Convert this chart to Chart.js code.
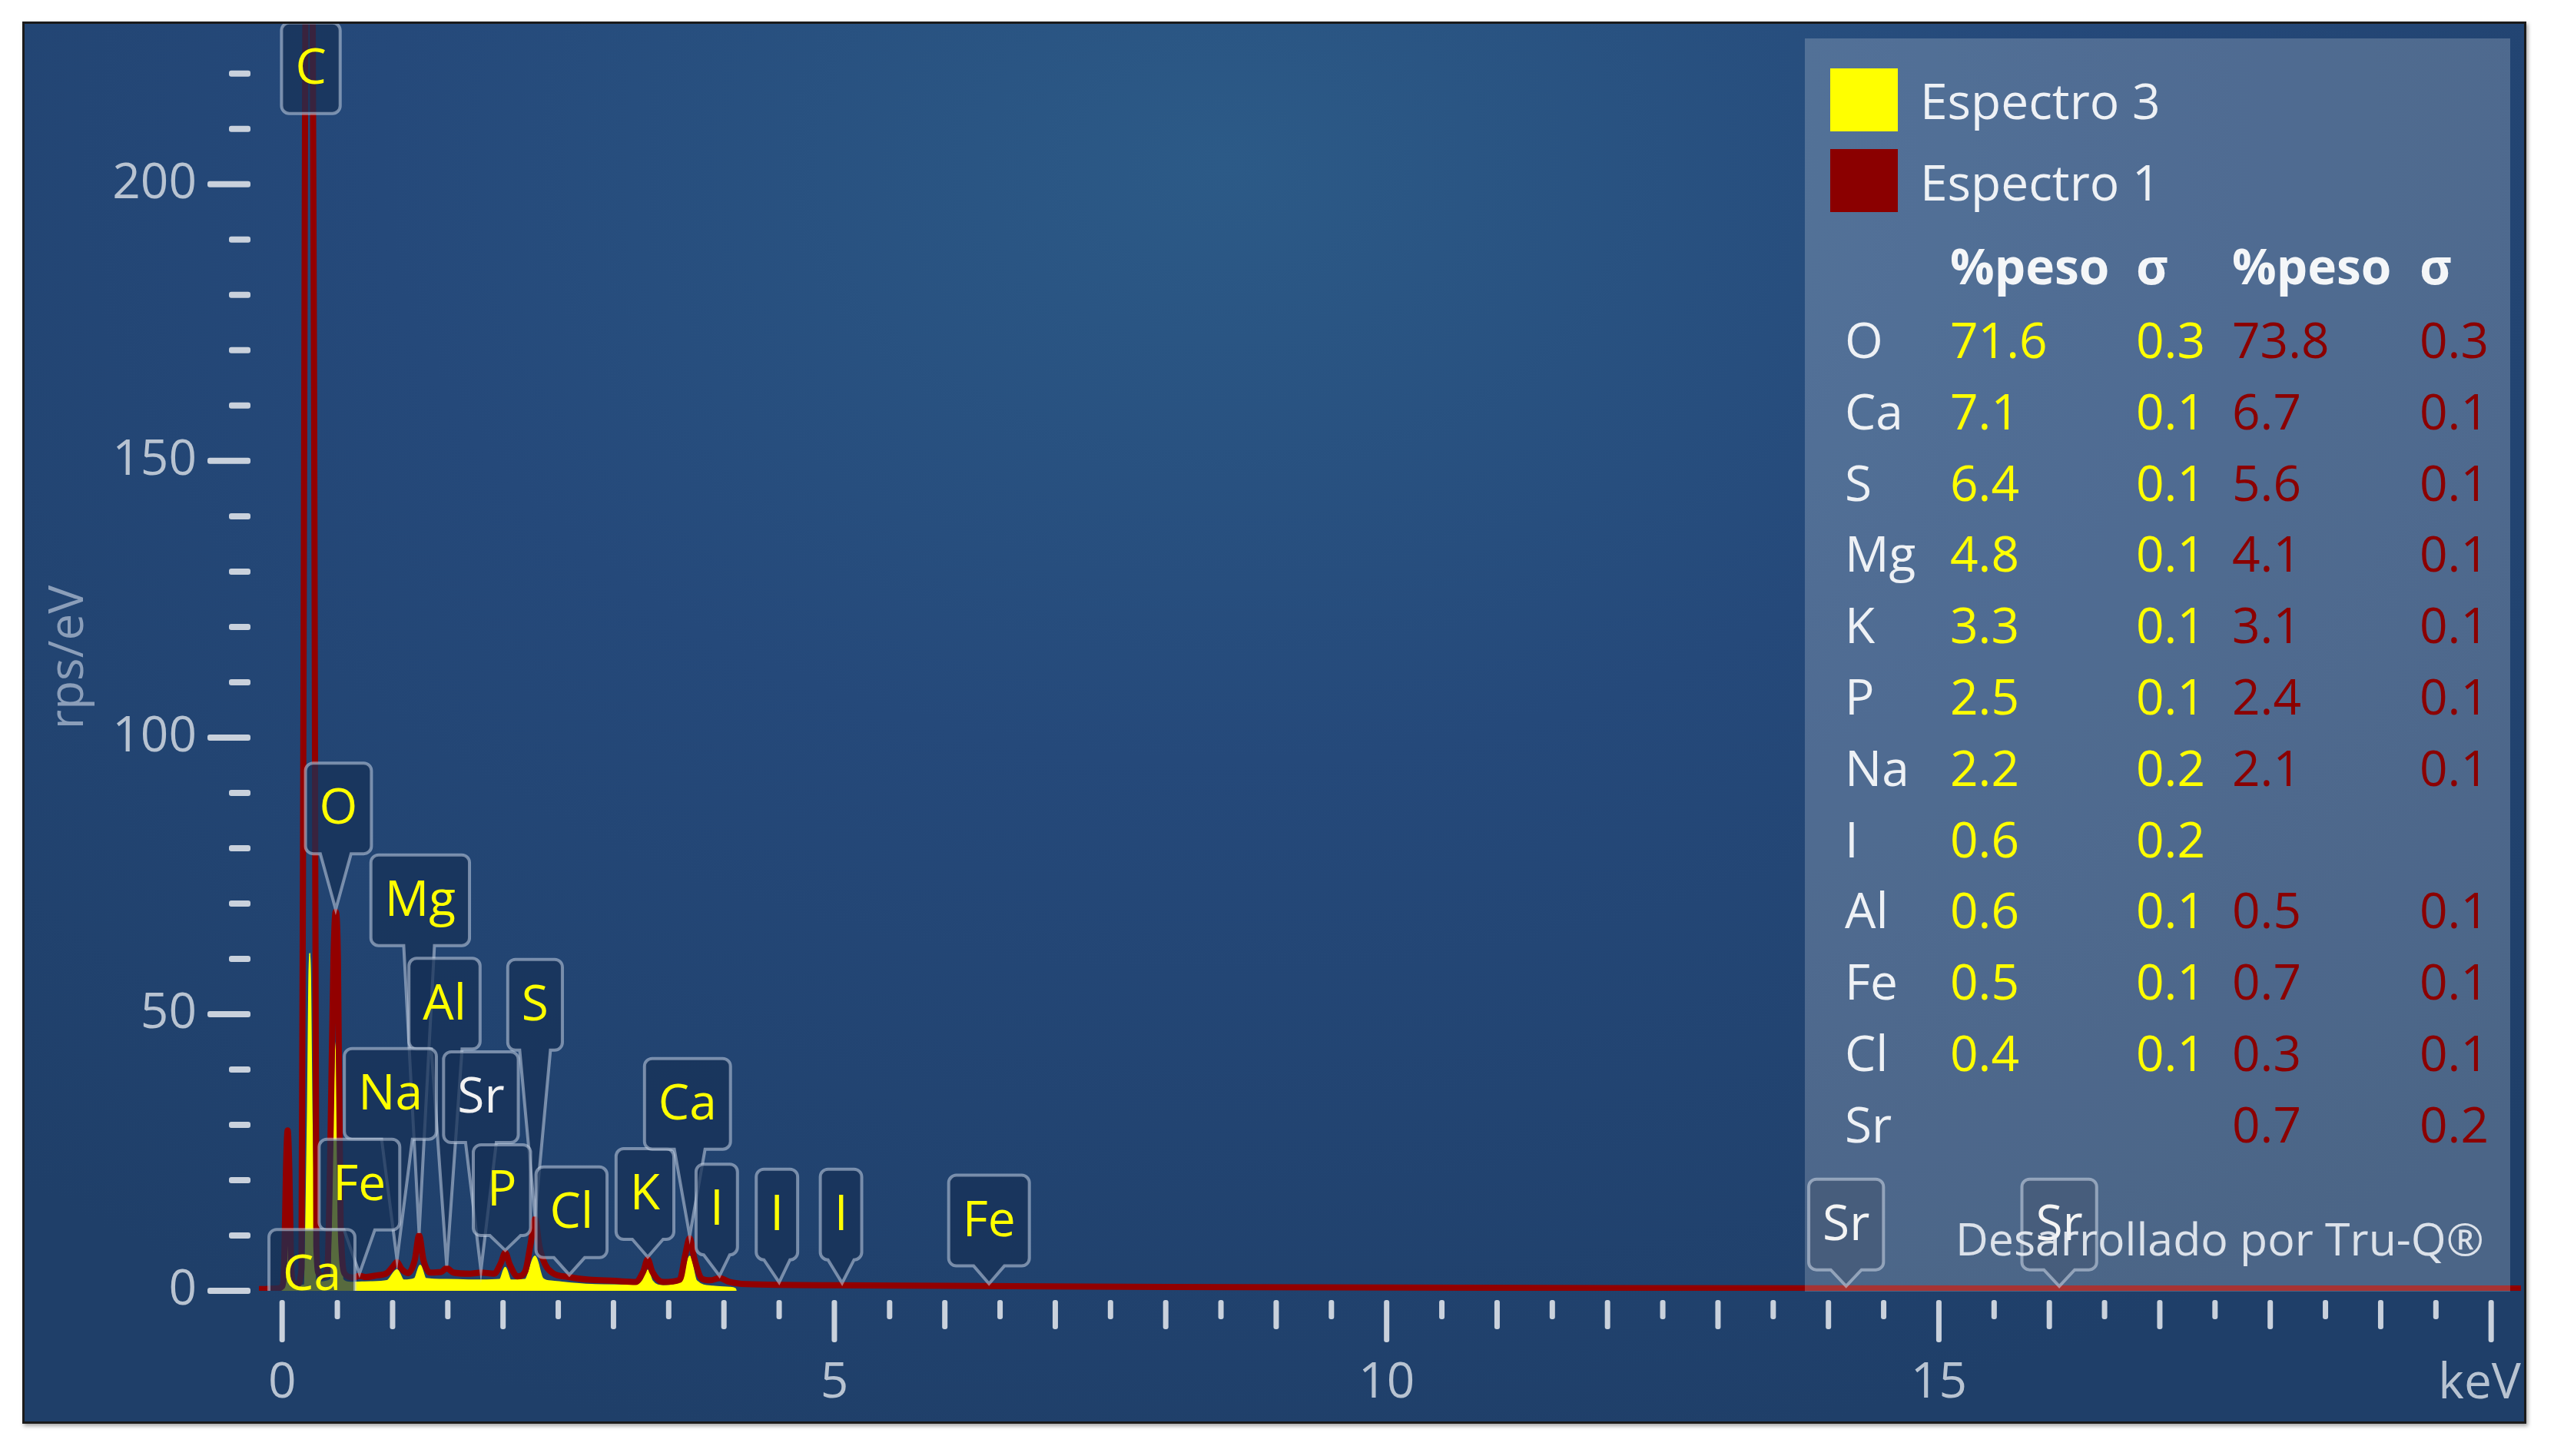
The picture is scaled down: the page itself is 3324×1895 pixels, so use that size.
<!DOCTYPE html>
<html lang="es">
<head>
<meta charset="utf-8">
<title>Espectro EDS</title>
<script src="https://cdn.jsdelivr.net/npm/chart.js@4.4.1/dist/chart.umd.min.js"></script>
<style>
  html, body { margin: 0; padding: 0; background: #fff; }
  body { width: 3324px; height: 1895px; position: relative; overflow: hidden; font-family: 'Open Sans', sans-serif; }
  #frame {
    position: absolute; left: 29px; top: 28px; width: 3253px; height: 1819px;
    border: 3px solid #1b1b1b; box-shadow: 2px 3px 5px rgba(0,0,0,0.35); overflow: hidden;
    background: radial-gradient(ellipse 75% 95% at 48% 10%, #2c5a87 0%, #25497a 45%, #1f3f69 100%);
  }
  #chartBox { position: absolute; left: 0; top: 0; width: 3253px; height: 1819px; }
  #panel { position: absolute; left: 2317px; top: 19px; width: 918px; height: 1631px; background: rgba(255,255,255,0.2); }
  .t { position: absolute; height: 80px; line-height: 80px; font-size: 64px; white-space: nowrap; color: #eef1f5; }
  .sw { position: absolute; width: 88px; height: 82px; }
  .b { font-weight: 700; }
</style>
</head>
<body>
<div id="frame">
  <div id="chartBox"><canvas id="spectrum"></canvas></div>
  <div id="panel"></div>
</div>
<script>
// Espectro 1 (rojo): energía en keV y rps/eV
const spec1Energy = [-0.21, -0.05, 0.00, 0.02, 0.035, 0.05, 0.065, 0.08, 0.10, 0.14, 0.175, 0.195, 0.215, 0.275, 0.295, 0.31, 0.335, 0.37, 0.41, 0.44, 0.465, 0.485, 0.505, 0.53, 0.57,
  0.64, 0.70, 0.76, 0.86, 0.95, 1.00, 1.04, 1.08, 1.14, 1.20, 1.24, 1.28, 1.34, 1.44, 1.49, 1.55, 1.70, 1.80, 1.92, 1.98, 2.02, 2.06, 2.13,
  2.20, 2.25, 2.29, 2.33, 2.38, 2.45, 2.59, 2.78, 3.01, 3.20, 3.27, 3.31, 3.35, 3.45, 3.60, 3.65, 3.69, 3.73, 3.80, 3.88, 3.96, 4.05, 4.20,
  5.00, 6.00, 8.00, 12.00, 16.00, 20.27];
const spec1Counts = [0.3, 0.4, 0.8, 6, 22, 29, 22, 6, 1.5, 1.2, 4, 120, 240, 240, 120, 8, 3, 2.5, 4, 30, 60, 68.5, 60, 12, 3,
  2.4, 2.7, 2.5, 2.8, 3.2, 4.3, 5.2, 4.0, 3.2, 5.5, 10, 5.5, 3.3, 3.4, 4.1, 3.3, 3.1, 3.3, 3.1, 5, 6.9, 4.8, 2.6,
  3.5, 8.5, 13, 8, 4.8, 3.2, 2.5, 2.0, 1.8, 1.6, 3.5, 5.7, 3.5, 1.6, 2, 6.5, 9.5, 6, 2.2, 1.9, 2.3, 1.6, 1.2,
  1.0, 0.9, 0.7, 0.5, 0.4, 0.4];

// Espectro 3 (amarillo): termina hacia 4.1 keV
const spec3Energy = [-0.21, 0.00, 0.03, 0.05, 0.07, 0.10, 0.20, 0.23, 0.25, 0.27, 0.31, 0.44, 0.47, 0.49, 0.51, 0.55, 0.62, 0.80, 0.95, 1.04, 1.10,
  1.20, 1.25, 1.30, 1.49, 1.80, 1.97, 2.02, 2.07, 2.20, 2.29, 2.36, 2.45, 2.80, 3.20, 3.27, 3.31, 3.35, 3.45, 3.63, 3.69, 3.75, 3.90, 4.05, 4.10, 4.11];
const spec3Counts = [0, 0.3, 8, 14, 8, 0.8, 1, 30, 61, 30, 1.5, 2, 30, 45, 30, 2, 1.5, 1.6, 1.8, 3.8, 1.9,
  2.2, 4.6, 2.2, 2.0, 1.9, 2.0, 4.2, 1.9, 2.0, 6.2, 2.2, 1.7, 1.1, 1.0, 2, 3.7, 1.8, 0.9, 2, 6.2, 1.8, 0.8, 0.6, 0.4, 0];

// ejes
const xRange = [-0.21, 20.27];
const yRange = [0, 229];
const xLabelValues = [0, 5, 10, 15];
const yLabelValues = [0, 50, 100, 150, 200];

// etiquetas de picos: texto, energía del recuadro, base del recuadro (rps/eV), energía del pico señalado
const peakLabels = [
  { text: 'C',  color: '#ffff00', boxE: 0.26,  boxBottom: 212.8, tipE: null },
  { text: 'O',  color: '#ffff00', boxE: 0.51,  boxBottom: 79,    tipE: 0.485 },
  { text: 'Mg', color: '#ffff00', boxE: 1.25,  boxBottom: 62.4,  tipE: 1.24 },
  { text: 'Al', color: '#ffff00', boxE: 1.47,  boxBottom: 43.7,  tipE: 1.49 },
  { text: 'S',  color: '#ffff00', boxE: 2.29,  boxBottom: 43.5,  tipE: 2.29 },
  { text: 'Na', color: '#ffff00', boxE: 0.98,  boxBottom: 27.4,  tipE: 1.04 },
  { text: 'Sr', color: '#f2f2f2', boxE: 1.80,  boxBottom: 26.8,  tipE: 1.80 },
  { text: 'Fe', color: '#ffff00', boxE: 0.70,  boxBottom: 11,    tipE: 0.70 },
  { text: 'P',  color: '#ffff00', boxE: 1.99,  boxBottom: 10,    tipE: 2.02 },
  { text: 'Cl', color: '#ffff00', boxE: 2.62,  boxBottom: 6,     tipE: 2.60 },
  { text: 'K',  color: '#ffff00', boxE: 3.285, boxBottom: 9.3,   tipE: 3.31 },
  { text: 'Ca', color: '#ffff00', boxE: 3.67,  boxBottom: 25.6,  tipE: 3.69 },
  { text: 'I',  color: '#ffff00', boxE: 3.935, boxBottom: 6.5,   tipE: 3.96 },
  { text: 'I',  color: '#ffff00', boxE: 4.48,  boxBottom: 5.6,   tipE: 4.50 },
  { text: 'I',  color: '#ffff00', boxE: 5.06,  boxBottom: 5.6,   tipE: 5.07 },
  { text: 'Fe', color: '#ffff00', boxE: 6.40,  boxBottom: 4.5,   tipE: 6.40 },
  { text: 'Ca', color: '#ffff00', boxE: 0.27,  boxBottom: -5.3,  tipE: null },
  { text: 'Sr', color: '#f2f2f2', boxE: 14.16, boxBottom: 3.8,   tipE: 14.16 },
  { text: 'Sr', color: '#f2f2f2', boxE: 16.09, boxBottom: 3.8,   tipE: 16.09 }
];

// tabla de cuantificación
const legendItems = ['Espectro 3', 'Espectro 1'];
const legendColors = ['#ffff00', '#8b0000'];
const elements = ['O', 'Ca', 'S', 'Mg', 'K', 'P', 'Na', 'I', 'Al', 'Fe', 'Cl', 'Sr'];
const peso3  = ['71.6', '7.1', '6.4', '4.8', '3.3', '2.5', '2.2', '0.6', '0.6', '0.5', '0.4', ''];
const sigma3 = ['0.3', '0.1', '0.1', '0.1', '0.1', '0.1', '0.2', '0.2', '0.1', '0.1', '0.1', ''];
const peso1  = ['73.8', '6.7', '5.6', '4.1', '3.1', '2.4', '2.1', '', '0.5', '0.7', '0.3', '0.7'];
const sigma1 = ['0.3', '0.1', '0.1', '0.1', '0.1', '0.1', '0.1', '', '0.1', '0.1', '0.1', '0.2'];

const toPoints = (es, vs) => es.map((e, i) => ({ x: e, y: vs[i] }));

function valueAt(es, vs, e) {
  for (let i = 1; i < es.length; i++) {
    if (es[i] >= e) {
      const t = (e - es[i - 1]) / (es[i] - es[i - 1]);
      return vs[i - 1] + t * (vs[i] - vs[i - 1]);
    }
  }
  return vs[vs.length - 1];
}

function roundBar(ctx, x, y, w, h, r) {
  ctx.beginPath();
  ctx.roundRect(x, y, w, h, r);
  ctx.fill();
}

// marcas de los ejes con tres longitudes, como el original
const tickMarks = {
  id: 'tickMarks',
  afterDraw(chart) {
    const { ctx, chartArea: a, scales: { x, y } } = chart;
    ctx.save();
    ctx.fillStyle = '#c9d1dc';
    y.ticks.forEach(t => {
      const py = y.getPixelForValue(t.value);
      const len = t.value % 50 === 0 ? 56 : 28;
      roundBar(ctx, a.left - 11 - len, py - 4, len, 8, 3);
    });
    x.ticks.forEach(t => {
      const px = x.getPixelForValue(t.value);
      const v = t.value;
      const len = v % 5 === 0 ? 55 : (Number.isInteger(v) ? 38 : 25);
      roundBar(ctx, px - 3.5, a.bottom + 12, 7, len, 3);
    });
    ctx.restore();
  }
};

function tagPath(ctx, l, t, r, b, rad, tip) {
  ctx.beginPath();
  ctx.moveTo(l + rad, t);
  ctx.lineTo(r - rad, t); ctx.arcTo(r, t, r, t + rad, rad);
  ctx.lineTo(r, b - rad); ctx.arcTo(r, b, r - rad, b, rad);
  if (tip) {
    ctx.lineTo(tip.bx + tip.hw, b);
    ctx.lineTo(tip.x, tip.y);
    ctx.lineTo(tip.bx - tip.hw, b);
  }
  ctx.lineTo(l + rad, b); ctx.arcTo(l, b, l, b - rad, rad);
  ctx.lineTo(l, t + rad); ctx.arcTo(l, t, l + rad, t, rad);
  ctx.closePath();
}

// recuadros con el símbolo del elemento y la flecha al pico
const peakTagPlugin = {
  id: 'peakTags',
  afterDatasetsDraw(chart) {
    const { ctx, chartArea: a, scales: { x, y } } = chart;
    ctx.save();
    ctx.beginPath();
    ctx.rect(a.left, a.top, a.right - a.left, a.bottom - a.top);
    ctx.clip();
    ctx.font = '64px "Open Sans"';
    ctx.textAlign = 'center';
    ctx.textBaseline = 'middle';
    const boxH = 118, rad = 10, pad = 18;
    peakLabels.forEach(p => {
      const w = ctx.measureText(p.text).width + pad * 2;
      const cx = x.getPixelForValue(p.boxE);
      const b = y.getPixelForValue(p.boxBottom);
      const l = cx - w / 2, r = cx + w / 2, t = b - boxH;
      let tip = null;
      if (p.tipE !== null) {
        const tv = valueAt(spec1Energy, spec1Counts, p.tipE);
        const tx = x.getPixelForValue(p.tipE);
        const ty = y.getPixelForValue(tv) - 3;
        if (ty > b + 4) {
          const hw = Math.min(20, w / 2 - rad);
          const bx = Math.min(Math.max(tx, l + rad + hw), r - rad - hw);
          tip = { x: tx, y: ty, bx, hw };
        }
      }
      tagPath(ctx, l, t, r, b, rad, tip);
      ctx.fillStyle = 'rgba(22, 48, 86, 0.72)';
      ctx.fill();
      ctx.lineWidth = 4;
      ctx.strokeStyle = 'rgba(196, 210, 228, 0.55)';
      ctx.stroke();
      ctx.fillStyle = p.color;
      ctx.fillText(p.text, cx, t + boxH / 2 + 2);
    });
    ctx.restore();
  }
};

Chart.defaults.font.family = "'Open Sans', sans-serif";

const chart = new Chart(document.getElementById('spectrum'), {
  type: 'line',
  data: {
    datasets: [
      {
        label: legendItems[1],
        data: toPoints(spec1Energy, spec1Counts),
        borderColor: '#920000',
        borderWidth: 8,
        fill: false,
        pointRadius: 0,
        cubicInterpolationMode: 'monotone'
      },
      {
        label: legendItems[0],
        data: toPoints(spec3Energy, spec3Counts),
        borderColor: '#ffff00',
        backgroundColor: '#ffff00',
        borderWidth: 2,
        fill: 'origin',
        pointRadius: 0,
        cubicInterpolationMode: 'monotone'
      }
    ]
  },
  options: {
    responsive: true,
    maintainAspectRatio: false,
    animation: false,
    devicePixelRatio: 1,
    events: [],
    layout: { padding: { top: 0, right: 4, left: 0, bottom: 0 } },
    plugins: { legend: { display: false }, tooltip: { enabled: false } },
    scales: {
      x: {
        type: 'linear',
        min: xRange[0], max: xRange[1],
        // la separación de las etiquetas va en tickLength (marcas invisibles), no en padding
        grid: { display: false, drawTicks: true, tickLength: 82 },
        border: { display: false },
        ticks: {
          stepSize: 0.5, includeBounds: false, autoSkip: false, maxRotation: 0,
          padding: 0, color: '#b8c3d1', font: { size: 64 },
          callback: v => xLabelValues.includes(v) ? String(v) : ''
        },
        title: { display: true, text: 'keV', align: 'end', color: '#b8c3d1', font: { size: 64 }, padding: { top: 0, bottom: 10 } },
        afterFit: s => { s.height = 170; s.paddingLeft = 0; s.paddingRight = 0; }
      },
      y: {
        min: yRange[0], max: yRange[1],
        grid: { display: false, drawTicks: true, tickLength: 81 },
        border: { display: false },
        ticks: {
          stepSize: 10, includeBounds: false, autoSkip: false,
          padding: 0, color: '#b8c3d1', font: { size: 64 },
          callback: v => yLabelValues.includes(v) ? String(v) : ''
        },
        title: { display: true, text: 'rps/eV', color: '#8b9eb9', font: { size: 62 }, padding: { top: 21, bottom: 0 } },
        afterFit: s => { s.width = 305; s.paddingTop = 0; s.paddingBottom = 0; }
      }
    }
  },
  plugins: [tickMarks, peakTagPlugin]
});

// leyenda y tabla de %peso dentro del panel translúcido
const panel = document.getElementById('panel');
function addText(txt, left, centerY, color, cls, size) {
  const d = document.createElement('div');
  d.className = 't' + (cls ? ' ' + cls : '');
  d.textContent = txt;
  d.style.left = left + 'px';
  d.style.top = (centerY - 40) + 'px';
  if (color) d.style.color = color;
  if (size) d.style.fontSize = size + 'px';
  panel.appendChild(d);
}
legendItems.forEach((name, i) => {
  const sw = document.createElement('div');
  sw.className = 'sw';
  sw.style.left = '33px';
  sw.style.top = (39 + i * 105) + 'px';
  sw.style.background = legendColors[i];
  panel.appendChild(sw);
  addText(name, 150, 81 + i * 106);
});
const cols = [52, 189, 431, 556, 800];
addText('%peso', cols[1], 296, '#f4f6f8', 'b');
addText('σ', cols[2], 296, '#f4f6f8', 'b');
addText('%peso', cols[3], 296, '#f4f6f8', 'b');
addText('σ', cols[4], 296, '#f4f6f8', 'b');
elements.forEach((el, i) => {
  const cy = 392 + i * 92.8;
  addText(el, cols[0], cy);
  addText(peso3[i], cols[1], cy, '#ffff00');
  addText(sigma3[i], cols[2], cy, '#ffff00');
  addText(peso1[i], cols[3], cy, '#8b0000');
  addText(sigma1[i], cols[4], cy, '#8b0000');
});
addText('Desarrollado por Tru-Q®', 196, 1561, 'rgba(236,240,245,0.9)', null, 59);
</script>
</body>
</html>
